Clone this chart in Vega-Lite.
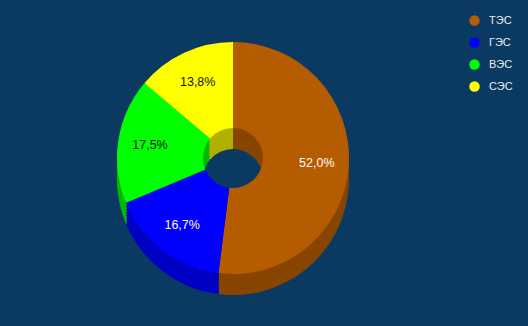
{
  "$schema": "https://vega.github.io/schema/vega-lite/v6.json",
  "width": 466,
  "height": 316,
  "padding": {"left": 0, "top": 0, "right": 62, "bottom": 10},
  "autosize": "none",
  "background": "#0a3a62",
  "config": {
    "view": {"stroke": null},
    "font": "Liberation Sans",
    "locale": {"number": {"decimal": ",", "thousands": " ", "grouping": [3], "currency": ["", ""]}}
  },
  "datasets": {
    "energy": [
      {"src": "ТЭС", "share": 0.52, "ord": 1},
      {"src": "ГЭС", "share": 0.167, "ord": 2},
      {"src": "ВЭС", "share": 0.175, "ord": 3},
      {"src": "СЭС", "share": 0.138, "ord": 4}
    ]
  },
  "data": {"name": "energy"},
  "layer": [
    {"mark": {"type": "arc", "outerRadius": 116, "innerRadius": 30, "yOffset": 21},
      "encoding": {"theta": {"field": "share", "type": "quantitative", "stack": true}, "order": {"field": "ord", "type": "quantitative"},
        "color": {"field": "src", "type": "nominal", "legend": null, "scale": {"domain": ["ТЭС", "ГЭС", "ВЭС", "СЭС"], "range": ["#874500", "#0000c4", "#00b800", "#b0b000"]}}}},
    {"mark": {"type": "arc", "outerRadius": 116, "innerRadius": 30, "yOffset": 18},
      "encoding": {"theta": {"field": "share", "type": "quantitative", "stack": true}, "order": {"field": "ord", "type": "quantitative"},
        "color": {"field": "src", "type": "nominal", "legend": null, "scale": {"domain": ["ТЭС", "ГЭС", "ВЭС", "СЭС"], "range": ["#874500", "#0000c4", "#00b800", "#b0b000"]}}}},
    {"mark": {"type": "arc", "outerRadius": 116, "innerRadius": 30, "yOffset": 15},
      "encoding": {"theta": {"field": "share", "type": "quantitative", "stack": true}, "order": {"field": "ord", "type": "quantitative"},
        "color": {"field": "src", "type": "nominal", "legend": null, "scale": {"domain": ["ТЭС", "ГЭС", "ВЭС", "СЭС"], "range": ["#874500", "#0000c4", "#00b800", "#b0b000"]}}}},
    {"mark": {"type": "arc", "outerRadius": 116, "innerRadius": 30, "yOffset": 12},
      "encoding": {"theta": {"field": "share", "type": "quantitative", "stack": true}, "order": {"field": "ord", "type": "quantitative"},
        "color": {"field": "src", "type": "nominal", "legend": null, "scale": {"domain": ["ТЭС", "ГЭС", "ВЭС", "СЭС"], "range": ["#874500", "#0000c4", "#00b800", "#b0b000"]}}}},
    {"mark": {"type": "arc", "outerRadius": 116, "innerRadius": 30, "yOffset": 9},
      "encoding": {"theta": {"field": "share", "type": "quantitative", "stack": true}, "order": {"field": "ord", "type": "quantitative"},
        "color": {"field": "src", "type": "nominal", "legend": null, "scale": {"domain": ["ТЭС", "ГЭС", "ВЭС", "СЭС"], "range": ["#874500", "#0000c4", "#00b800", "#b0b000"]}}}},
    {"mark": {"type": "arc", "outerRadius": 116, "innerRadius": 30, "yOffset": 6},
      "encoding": {"theta": {"field": "share", "type": "quantitative", "stack": true}, "order": {"field": "ord", "type": "quantitative"},
        "color": {"field": "src", "type": "nominal", "legend": null, "scale": {"domain": ["ТЭС", "ГЭС", "ВЭС", "СЭС"], "range": ["#874500", "#0000c4", "#00b800", "#b0b000"]}}}},
    {"mark": {"type": "arc", "outerRadius": 116, "innerRadius": 30, "yOffset": 3},
      "encoding": {"theta": {"field": "share", "type": "quantitative", "stack": true}, "order": {"field": "ord", "type": "quantitative"},
        "color": {"field": "src", "type": "nominal", "legend": null, "scale": {"domain": ["ТЭС", "ГЭС", "ВЭС", "СЭС"], "range": ["#874500", "#0000c4", "#00b800", "#b0b000"]}}}},
    {
      "mark": {"type": "arc", "outerRadius": 116, "innerRadius": 30},
      "encoding": {
        "theta": {"field": "share", "type": "quantitative", "stack": true},
        "order": {"field": "ord", "type": "quantitative"},
        "color": {"field": "src", "type": "nominal", "title": null,
          "scale": {"domain": ["ТЭС", "ГЭС", "ВЭС", "СЭС"], "range": ["#b65c00", "#0000ff", "#00ff00", "#ffff00"]},
          "legend": {"orient": "none", "legendX": 469, "legendY": 15, "symbolType": "circle", "symbolSize": 110,
            "symbolStrokeWidth": 0, "labelColor": "#e6ecf2", "labelFontSize": 11, "labelFont": "Liberation Sans", "rowPadding": 10, "labelOffset": 9}}
      }
    },
    {
      "mark": {"type": "text", "radius": 84, "fontSize": 12.5, "font": "Liberation Sans"},
      "encoding": {
        "theta": {"field": "share", "type": "quantitative", "stack": true},
        "order": {"field": "ord", "type": "quantitative"},
        "text": {"field": "share", "type": "quantitative", "format": ".1%"},
        "color": {"condition": {"test": "datum.src === 'ТЭС' || datum.src === 'ГЭС'", "value": "#ffffff"}, "value": "#111111"}
      }
    }
  ],
  "resolve": {"scale": {"color": "independent"}}
}
